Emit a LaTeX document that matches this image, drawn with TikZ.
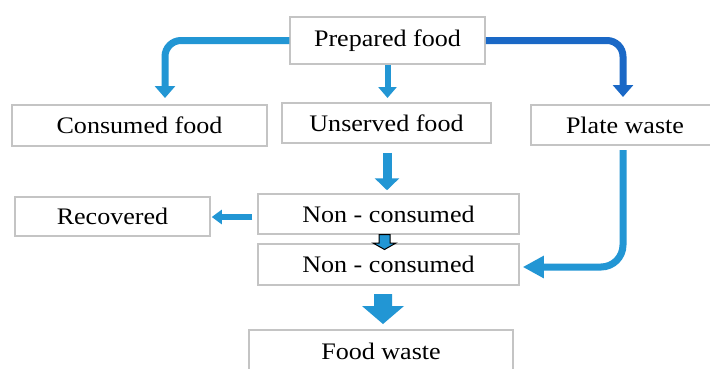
\documentclass[tikz,border=0pt]{standalone}
\usepackage{fontspec}
\setmainfont{Liberation Serif}[FakeStretch=1.1]
\usetikzlibrary{arrows.meta,calc}
\definecolor{lblue}{RGB}{34,150,212}
\definecolor{dblue}{RGB}{26,104,198}
\definecolor{bgray}{RGB}{196,196,196}
\begin{document}
\begin{tikzpicture}[x=1pt,y=-1pt,
  box/.style={draw=bgray, line width=1.5pt, fill=white, inner sep=0pt,
    font=\fontsize{23.7}{26}\selectfont},
  flow/.style={draw=lblue, line width=7pt, -{Triangle[width=20pt,length=12pt]}},
  blockarr/.style={fill=lblue}
]
\useasboundingbox (0,0) rectangle (710,368);
\fill[white] (0,0) rectangle (710,368);

\node[box, minimum width=195pt, minimum height=47pt] (prep) at (387.5,40.5) {Prepared food};
\node[box, minimum width=255pt, minimum height=41pt] (cons) at (139.5,125.5) {Consumed food};
\node[box, minimum width=209pt, minimum height=40pt] (unserved) at (386.5,123) {Unserved food};
\node[box, minimum width=188pt, minimum height=40pt] (plate) at (625,125) {Plate waste};
\node[box, minimum width=261pt, minimum height=40pt] (non1) at (388.5,214) {Non - consumed};
\node[box, minimum width=195pt, minimum height=39pt] (rec) at (112.5,216.5) {Recovered};
\node[box, minimum width=261pt, minimum height=41pt] (non2) at (388.5,264.5) {Non - consumed};
\node[box, minimum width=264pt, minimum height=42pt] (fw) at (381,351) {Food waste};

% Prepared -> Consumed
\coordinate (c1) at (165,98);
\draw[flow, rounded corners=16pt] (prep.west) -| (c1);
% Prepared -> Unserved
\coordinate (u1) at (387.5,98);
\draw[flow, line width=6pt, -{Triangle[width=18pt,length=11pt]}] (prep.south) -- (u1);
% Prepared -> Plate waste
\coordinate (p1) at (623,97);
\draw[flow, draw=dblue, rounded corners=16pt] (prep.east) -| (p1);
% Unserved -> Non-consumed
\draw[flow, line width=9pt, -{Triangle[width=24pt,length=12pt]}]
  ($(unserved.south)+(0.5,9)$) -- ($(non1.north)+(-1.5,-3)$);
% Plate waste -> Non-consumed (2)
\coordinate (pw1) at (623,150);
\draw[flow, -{Triangle[width=21pt,length=21pt]}, rounded corners=22pt]
  (pw1) |- ($(non2.east)+(3,2.5)$);
% Non-consumed -> Recovered
\draw[flow, line width=6pt, -{Triangle[width=14pt,length=10pt]}]
  ($(non1.west)+(-5,3)$) -- ($(rec.east)+(1,0.5)$);
% small hollow arrow between the two Non-consumed boxes
\draw[fill=lblue, draw=black, line width=1pt]
  (379,234.5) -- (390,234.5) -- (390,243) -- (396,243) -- (384.5,249.5)
  -- (373,243) -- (379,243) -- cycle;
% block arrow Non-consumed -> Food waste
\fill[blockarr]
  (374,294) -- (392,294) -- (392,306) -- (404,306) -- (383,324)
  -- (362,306) -- (374,306) -- cycle;
\end{tikzpicture}
\end{document}
